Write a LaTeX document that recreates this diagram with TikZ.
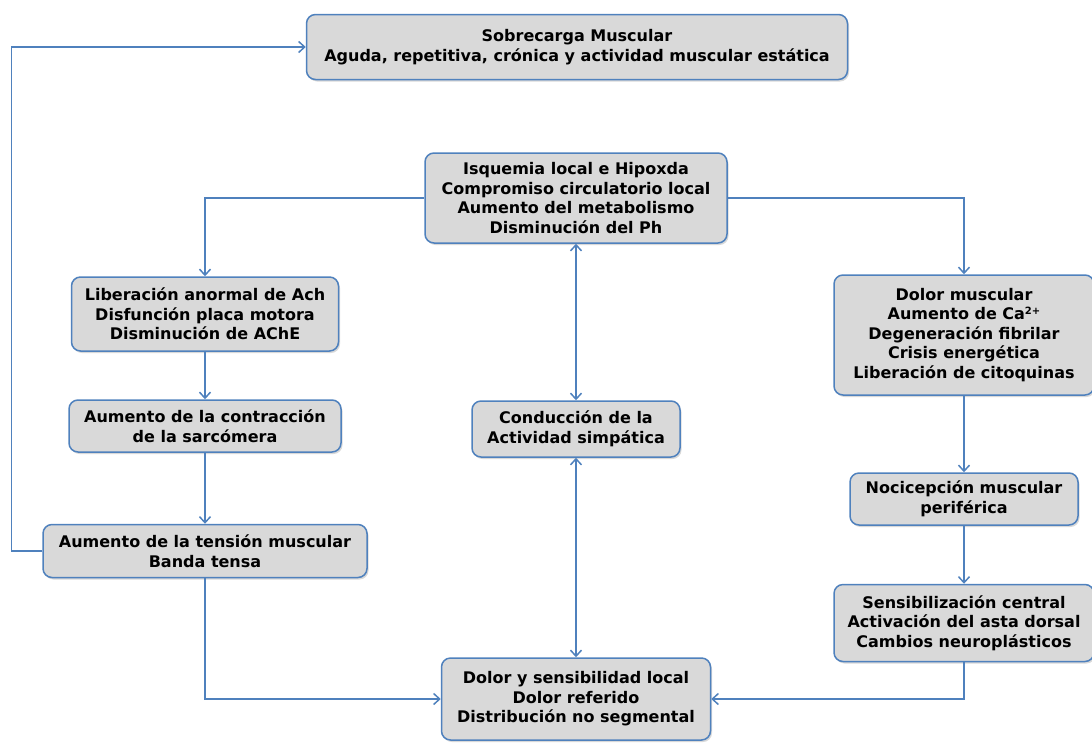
\documentclass[tikz,border=0pt]{standalone}
\usepackage{fontspec}
\setmainfont{DejaVu Sans}
\usetikzlibrary{positioning,arrows.meta,shadows}
\definecolor{flowblue}{RGB}{79,129,189}
\definecolor{flowgray}{RGB}{217,217,217}
\tikzset{
  caja/.style={draw=flowblue, line width=1.5pt, fill=flowgray, rounded corners=9pt,
    align=center, inner sep=2pt,
    font=\bfseries\fontsize{16}{19.5}\selectfont,
    drop shadow={shadow xshift=1.5pt, shadow yshift=-2pt, opacity=0.3}},
  flecha/.style={draw=flowblue, line width=1.5pt, -{Straight Barb[length=6pt,width=11pt]}},
  flechados/.style={draw=flowblue, line width=1.5pt, {Straight Barb[length=6pt,width=11pt]}-{Straight Barb[length=6pt,width=11pt]}},
}
\begin{document}
\begin{tikzpicture}[x=1pt,y=-1pt]
    \useasboundingbox (0,0) rectangle (1092,745);

    % Top box
    \node[caja, minimum width=541, minimum height=65] (sobre) at (577,47)
        {Sobrecarga Muscular\\Aguda, repetitiva, crónica y actividad muscular estática};

    % Centre column
    \node[caja, minimum width=302, minimum height=90] (isq) at (576,198)
        {Isquemia local e Hipoxda\\Compromiso circulatorio local\\Aumento del metabolismo\\Disminución del Ph};
    \node[caja, minimum width=208, minimum height=56] (cond) at (576,429)
        {Conducción de la\\Actividad simpática};
    \node[caja, minimum width=269, minimum height=82] (dolsens) at (576,699)
        {Dolor y sensibilidad local\\Dolor referido\\Distribución no segmental};

    % Left column
    \node[caja, minimum width=267, minimum height=74] (lib) at (205,314)
        {Liberación anormal de Ach\\Disfunción placa motora\\Disminución de AChE};
    \node[caja, minimum width=272, minimum height=52] (contr) at (205,426)
        {Aumento de la contracción\\de la sarcómera};
    \node[caja, minimum width=324, minimum height=53] (tens) at (205,551)
        {Aumento de la tensión muscular\\Banda tensa};

    % Right column
    \node[caja, minimum width=260, minimum height=120] (dolmus) at (964,335)
        {Dolor muscular\\Aumento de Ca{\fontsize{10}{10}\selectfont\raisebox{0.55em}{2+}}\\Degeneración fibrilar\\Crisis energética\\Liberación de citoquinas};
    \node[caja, minimum width=228, minimum height=52] (noci) at (964,499)
        {Nocicepción muscular\\periférica};
    \node[caja, minimum width=260, minimum height=77] (sens) at (964,623)
        {Sensibilización central\\Activación del asta dorsal\\Cambios neuroplásticos};

    % Connectors
    \draw[flecha] (isq.west) -| (lib.north);
    \draw[flecha] (isq.east) -| (dolmus.north);
    \draw[flecha] (lib) -- (contr);
    \draw[flecha] (contr) -- (tens);
    \draw[flecha] (tens.west) -- ++(-31,0) |- (sobre.west);
    \draw[flecha] (tens.south) |- (dolsens.west);
    \draw[flecha] (dolmus) -- (noci);
    \draw[flecha] (noci) -- (sens);
    \draw[flecha] (sens.south) |- (dolsens.east);
    \draw[flechados] (cond) -- (isq);
    \draw[flechados] (cond) -- (dolsens);
\end{tikzpicture}
\end{document}
